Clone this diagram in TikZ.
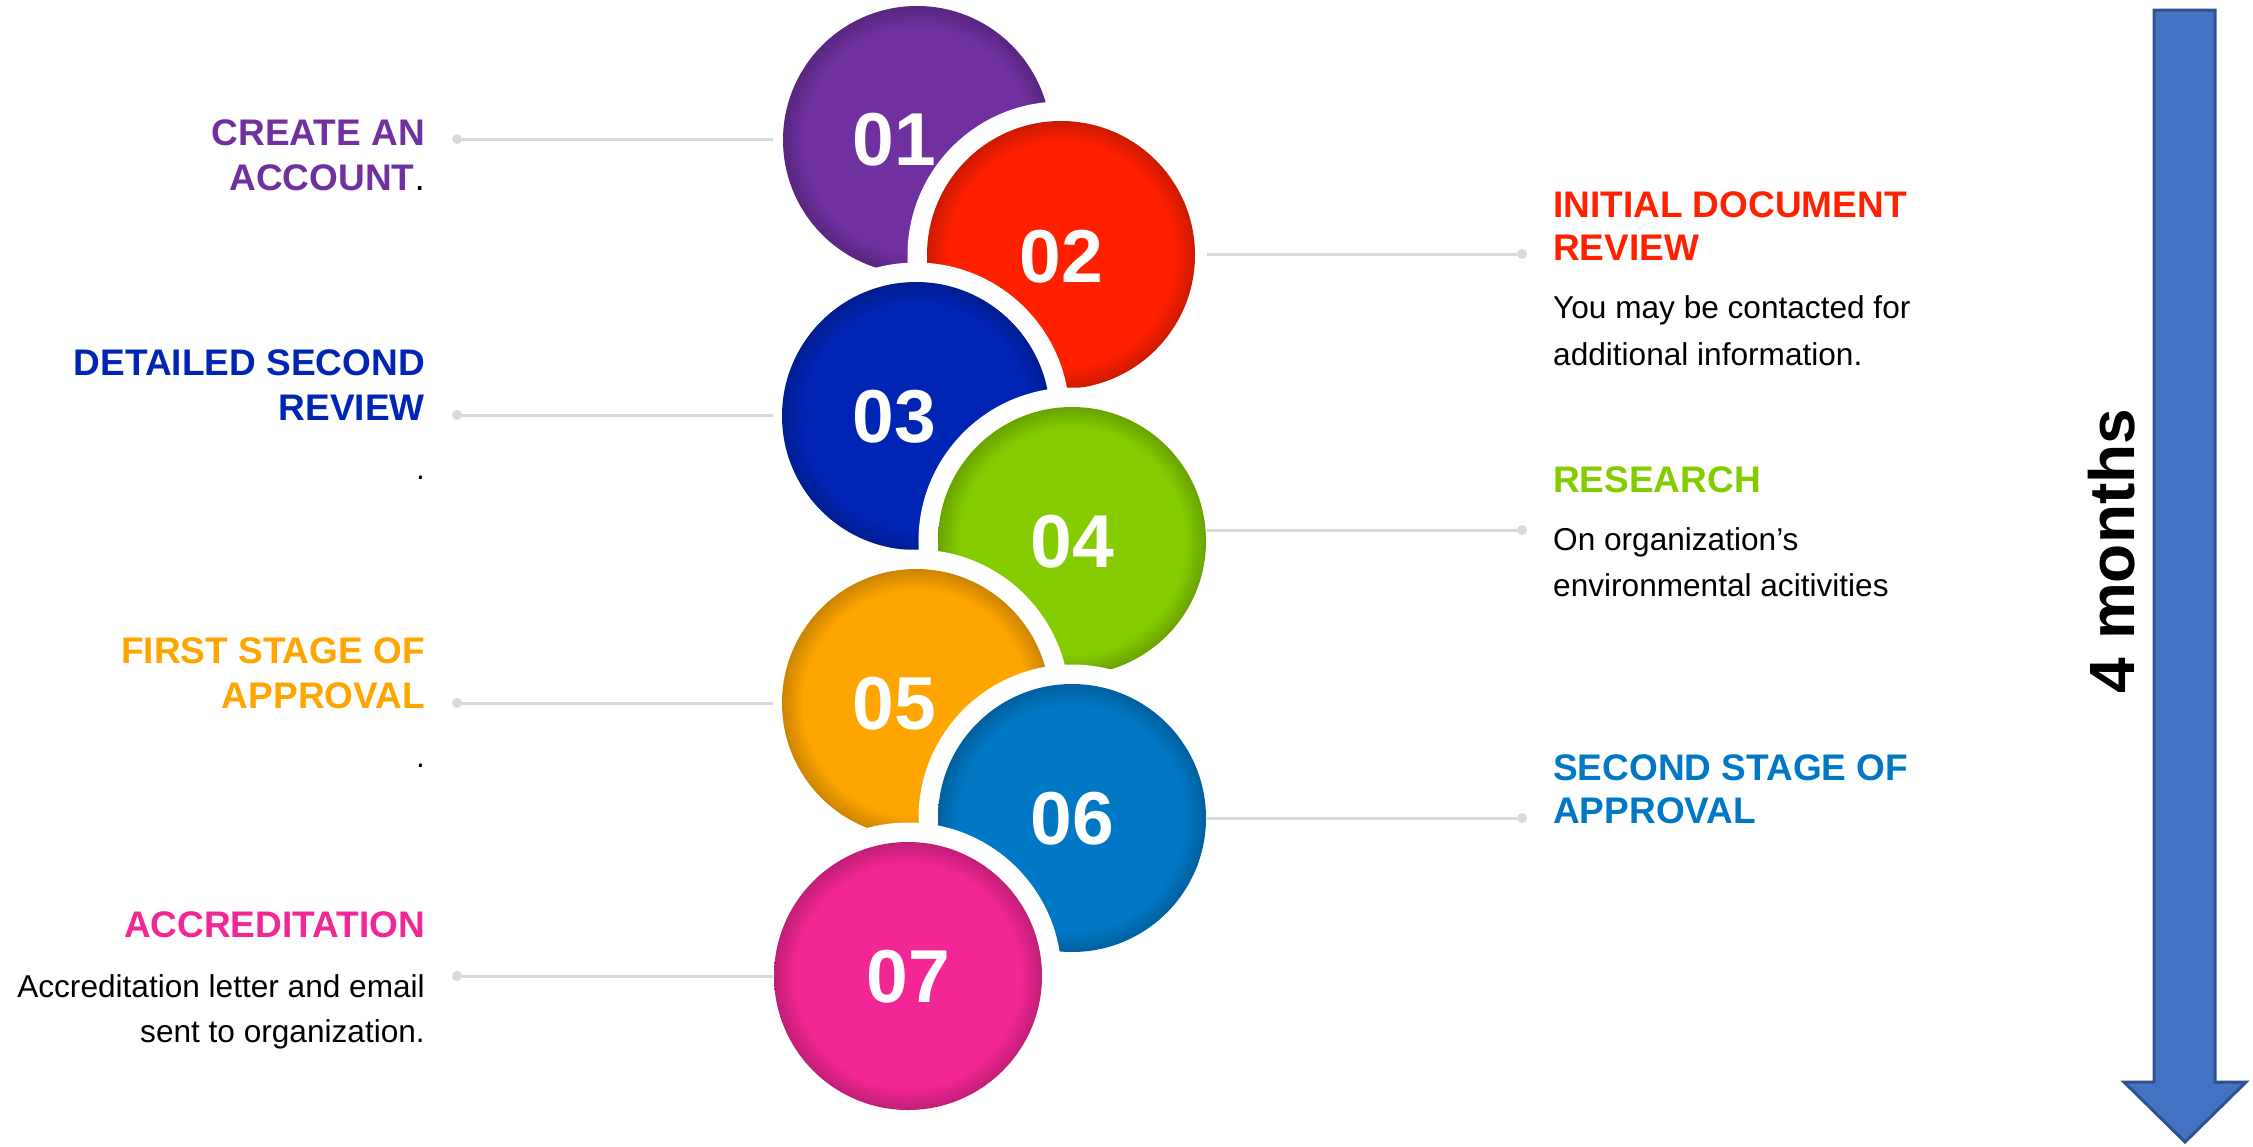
\documentclass[tikz,border=0pt]{standalone}
\usepackage{fontspec}
\setmainfont{Liberation Sans}
\definecolor{cpurple}{HTML}{7030A0}
\definecolor{cred}{HTML}{FF2000}
\definecolor{cblue}{HTML}{0024B4}
\definecolor{cgreen}{HTML}{84CC00}
\definecolor{corange}{HTML}{FFA500}
\definecolor{cazure}{HTML}{0078C6}
\definecolor{cpink}{HTML}{F22694}
\definecolor{cline}{HTML}{D9D9D9}
\definecolor{arrowfill}{HTML}{4472C4}
\definecolor{arrowedge}{HTML}{2F528F}
\colorlet{ballc}{black}
\pgfdeclareradialshading[ballc]{rim}{\pgfpoint{0bp}{0bp}}{color(0bp)=(ballc); color(21bp)=(ballc); color(25bp)=(ballc!80!black); color(50bp)=(ballc!80!black)}
\begin{document}
\begin{tikzpicture}[x=1pt,y=-1pt,
  ballnode/.style={circle, minimum size=268pt, inner sep=0pt, shade, shading=rim,
    preaction={fill=white, draw=white, line width=39pt}},
  num/.style={inner sep=0pt, text=white, font=\bfseries\fontsize{75}{75}\selectfont},
  headl/.style={anchor=base east, inner sep=0pt, font=\bfseries\fontsize{37}{44}\selectfont},
  headr/.style={anchor=base west, inner sep=0pt, font=\bfseries\fontsize{37}{44}\selectfont},
  bodyl/.style={anchor=base east, inner sep=0pt, text=black, font=\fontsize{31.6}{47}\selectfont},
  bodyr/.style={anchor=base west, inner sep=0pt, text=black, font=\fontsize{31.6}{47}\selectfont},
  conn/.style={draw=cline, line width=3pt},
  dotn/.style={circle, fill=cline, inner sep=0pt, minimum size=10pt}]
\fill[white] (0,0) rectangle (2253,1146);
\useasboundingbox (0,0) rectangle (2253,1146);

% circles
\colorlet{ballc}{cpurple}
\node[ballnode] (c1) at (917,140) {};
\node[num] (n1) at (894,140) {01};
\colorlet{ballc}{cred}
\node[ballnode] (c2) at (1061,255) {};
\node[num] (n2) at (1061,257) {02};
\colorlet{ballc}{cblue}
\node[ballnode] (c3) at (916,416) {};
\node[num] (n3) at (894,417) {03};
\colorlet{ballc}{cgreen}
\node[ballnode] (c4) at (1072,541) {};
\node[num] (n4) at (1072,542) {04};
\colorlet{ballc}{corange}
\node[ballnode] (c5) at (916,703) {};
\node[num] (n5) at (894,704) {05};
\colorlet{ballc}{cazure}
\node[ballnode] (c6) at (1072,818) {};
\node[num] (n6) at (1072,819) {06};
\colorlet{ballc}{cpink}
\node[ballnode] (c7) at (908,976) {};
\node[num] (n7) at (908,977) {07};

% connectors
\node[dotn] (d1) at (457,139) {};
\coordinate (e1) at (773,139);
\draw[conn] (d1) -- (e1);
\node[dotn] (d3) at (457,415) {};
\coordinate (e3) at (773,415);
\draw[conn] (d3) -- (e3);
\node[dotn] (d5) at (457,703) {};
\coordinate (e5) at (773,703);
\draw[conn] (d5) -- (e5);
\node[dotn] (d7) at (457,976) {};
\coordinate (e7) at (773,976);
\draw[conn] (d7) -- (e7);
\coordinate (s2) at (1207,254);
\node[dotn] (d2) at (1522,254) {};
\draw[conn] (s2) -- (d2);
\coordinate (s4) at (1207,530);
\node[dotn] (d4) at (1522,530) {};
\draw[conn] (s4) -- (d4);
\coordinate (s6) at (1207,818);
\node[dotn] (d6) at (1522,818) {};
\draw[conn] (s6) -- (d6);

% left texts
\node[headl, text=cpurple] (t1a) at (425,145) {CREATE AN};
\node[headl, text=cpurple] (t1b) at (425,190) {ACCOUNT\textcolor{black}{\mdseries.}};
\node[headl, text=cblue] (t3a) at (425,375) {DETAILED SECOND};
\node[headl, text=cblue] (t3b) at (425,420) {REVIEW};
\node[bodyl] (t3c) at (425,479) {.};
\node[headl, text=corange] (t5a) at (425,663) {FIRST STAGE OF};
\node[headl, text=corange] (t5b) at (425,708) {APPROVAL};
\node[bodyl] (t5c) at (425,767) {.};
\node[headl, text=cpink] (t7a) at (425,937) {ACCREDITATION};
\node[bodyl] (t7b) at (425,997) {Accreditation letter and email};
\node[bodyl] (t7c) at (425,1042) {sent to organization.};

% right texts
\node[headr, text=cred] (t2a) at (1553,217) {INITIAL DOCUMENT};
\node[headr, text=cred] (t2b) at (1553,260) {REVIEW};
\node[bodyr] (t2c) at (1553,318) {You may be contacted for};
\node[bodyr] (t2d) at (1553,365) {additional information.};
\node[headr, text=cgreen] (t4a) at (1553,492) {RESEARCH};
\node[bodyr] (t4b) at (1553,550) {On organization’s};
\node[bodyr] (t4c) at (1553,596) {environmental acitivities};
\node[headr, text=cazure] (t6a) at (1553,780) {SECOND STAGE OF};
\node[headr, text=cazure] (t6b) at (1553,823) {APPROVAL};

% timeline arrow
\draw[fill=arrowfill, draw=arrowedge, line width=3pt, line join=miter]
  (2154,10) -- (2215,10) -- (2215,1082) -- (2246,1082) -- (2185,1142)
  -- (2124,1082) -- (2154,1082) -- cycle;
\node[rotate=90, inner sep=0pt, font=\bfseries\fontsize{64}{64}\selectfont] (months) at (2112,551) {4 months};
\end{tikzpicture}
\end{document}
